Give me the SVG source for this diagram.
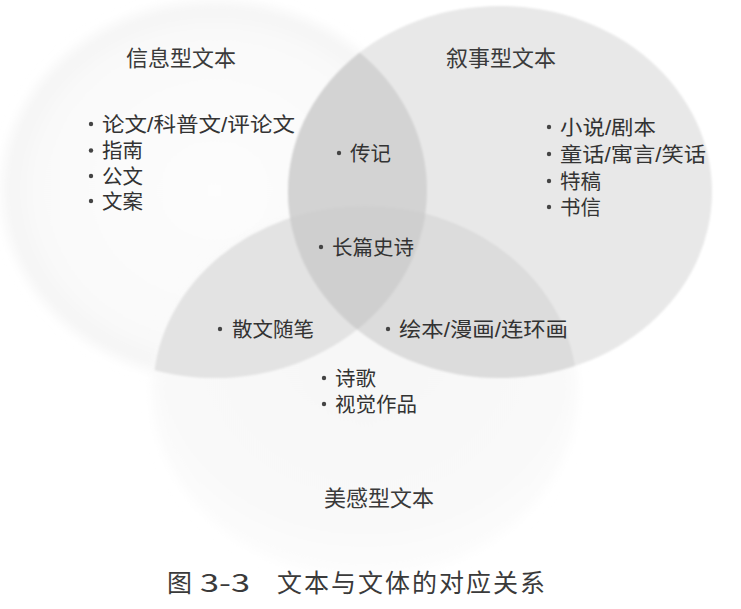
<svg xmlns="http://www.w3.org/2000/svg" xmlns:xlink="http://www.w3.org/1999/xlink" width="741" height="609" viewBox="0 0 741 609">
<style>
text{font-family:"Noto Sans CJK SC","Noto Sans",sans-serif;fill:#333;}
.h{font-size:22px;fill:#3a3a3a;}
.i{font-size:20.5px;font-family:"Liberation Sans","Noto Sans CJK SC",sans-serif;}
.cap{font-size:25px;fill:#3a3a3a;}
.b{fill:#444;}
</style>
<defs>
<ellipse id="eL" cx="215" cy="190" rx="212" ry="188"/>
<ellipse id="eR" cx="500" cy="192" rx="212" ry="186"/>
<ellipse id="eB" cx="365" cy="392" rx="212" ry="186"/>
<clipPath id="cL"><use href="#eL"/></clipPath>
<clipPath id="cR"><use href="#eR"/></clipPath>
<clipPath id="cB"><use href="#eB"/></clipPath>
<radialGradient id="gL" cx="0.5" cy="0.5" r="0.5">
<stop offset="0" stop-color="#fdfdfd"/>
<stop offset="0.85" stop-color="#f9f9f9"/>
<stop offset="1" stop-color="#f4f4f4"/>
</radialGradient>
<radialGradient id="gB" cx="0.5" cy="0.4" r="0.6">
<stop offset="0" stop-color="#f7f7f7"/>
<stop offset="0.8" stop-color="#f9f9f9"/>
<stop offset="1" stop-color="#fdfdfd"/>
</radialGradient>
<filter id="soft" x="-10%" y="-10%" width="120%" height="120%"><feGaussianBlur stdDeviation="6"/></filter>
<filter id="soft1" x="-5%" y="-5%" width="110%" height="110%"><feGaussianBlur stdDeviation="1"/></filter>
</defs>
<rect width="741" height="609" fill="#ffffff"/>
<g id="shapes">
<use href="#eL" fill="url(#gL)" filter="url(#soft)"/>
<use href="#eB" fill="url(#gB)" filter="url(#soft)"/>
<g filter="url(#soft1)">
<use href="#eR" fill="#e8e8e8"/>
<g clip-path="url(#cL)"><use href="#eB" fill="#e3e3e3"/></g>
<g clip-path="url(#cR)"><use href="#eB" fill="#dcdcdc"/></g>
<g clip-path="url(#cL)"><use href="#eR" fill="#d3d3d3"/></g>
<g clip-path="url(#cL)"><g clip-path="url(#cB)"><use href="#eR" fill="#cfcfcf"/></g></g>
</g>
</g>
<g id="node-informational">
<text class="h" x="126" y="65.5">信息型文本</text>
<circle class="b" cx="91" cy="124" r="2.2"/>
<circle class="b" cx="91" cy="150.5" r="2.2"/>
<circle class="b" cx="91" cy="176" r="2.2"/>
<circle class="b" cx="91" cy="201" r="2.2"/>
<text class="i" x="102" y="131.5" textLength="193" lengthAdjust="spacingAndGlyphs">论文/科普文/评论文</text>
<text class="i" x="102" y="158">指南</text>
<text class="i" x="102" y="183.5">公文</text>
<text class="i" x="102" y="208.5">文案</text>
</g>
<g id="node-narrative">
<text class="h" x="446" y="65.5">叙事型文本</text>
<circle class="b" cx="549" cy="127" r="2.2"/>
<circle class="b" cx="549" cy="154" r="2.2"/>
<circle class="b" cx="549" cy="181" r="2.2"/>
<circle class="b" cx="549" cy="207" r="2.2"/>
<text class="i" x="560" y="134.5" textLength="96" lengthAdjust="spacingAndGlyphs">小说/剧本</text>
<text class="i" x="560" y="161.5" textLength="146" lengthAdjust="spacingAndGlyphs">童话/寓言/笑话</text>
<text class="i" x="560" y="188.5">特稿</text>
<text class="i" x="560" y="214.5">书信</text>
</g>
<g id="node-info-narrative">
<circle class="b" cx="339" cy="153" r="2.2"/>
<text class="i" x="350" y="160.5">传记</text>
</g>
<g id="node-all">
<circle class="b" cx="321" cy="247" r="2.2"/>
<text class="i" x="332" y="254.5">长篇史诗</text>
</g>
<g id="node-info-aesthetic">
<circle class="b" cx="220" cy="329" r="2.2"/>
<text class="i" x="232" y="336.5">散文随笔</text>
</g>
<g id="node-narrative-aesthetic">
<circle class="b" cx="388" cy="329" r="2.2"/>
<text class="i" x="399" y="336.5" textLength="169" lengthAdjust="spacingAndGlyphs">绘本/漫画/连环画</text>
</g>
<g id="node-aesthetic">
<circle class="b" cx="324" cy="378" r="2.2"/>
<circle class="b" cx="324" cy="404" r="2.2"/>
<text class="i" x="335" y="385.5">诗歌</text>
<text class="i" x="335" y="411.5">视觉作品</text>
<text class="h" x="324" y="505.5">美感型文本</text>
</g>
<g id="caption">
<text class="cap" x="167" y="592">图</text>
<text class="cap" x="200" y="592" textLength="50" lengthAdjust="spacingAndGlyphs">3-3</text>
<text class="cap" x="277" y="592" textLength="268" lengthAdjust="spacing">文本与文体的对应关系</text>
</g>
</svg>
